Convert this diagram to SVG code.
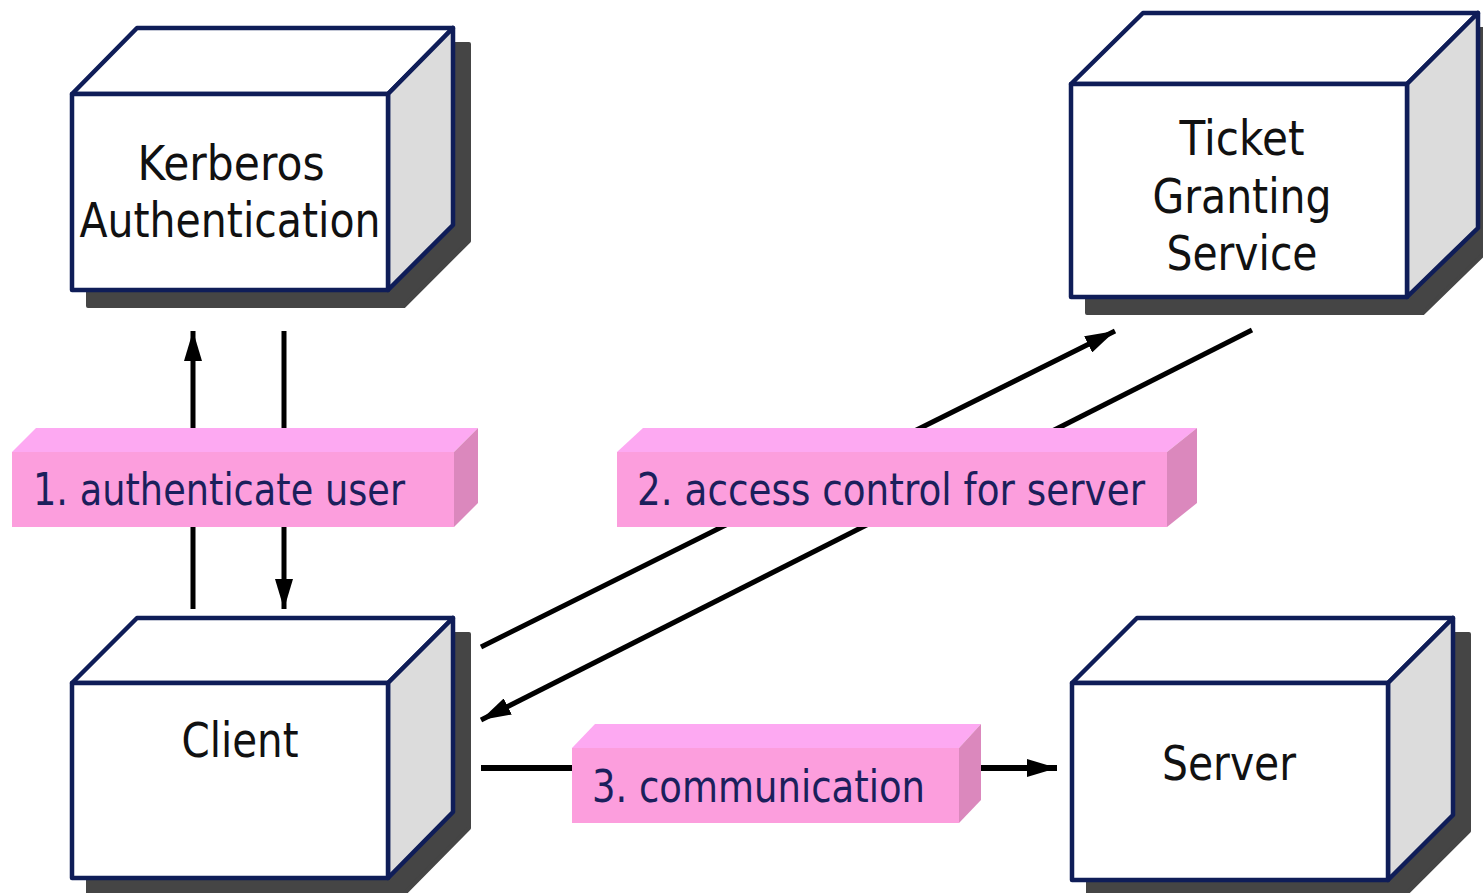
<svg xmlns="http://www.w3.org/2000/svg" width="1483" height="893" viewBox="0 0 1483 893">
  <defs>
    <style>
      .shadow { fill: #454545; stroke: #454545; stroke-width: 4; stroke-linejoin: round; }
      .front { fill: #ffffff; stroke: #0f1d58; stroke-width: 4.5; stroke-linejoin: round; }
      .top { fill: #ffffff; stroke: #0f1d58; stroke-width: 4.5; stroke-linejoin: round; }
      .side { fill: #dcdcdc; stroke: #0f1d58; stroke-width: 4.5; stroke-linejoin: round; }
      .node-text { font-family: "DejaVu Sans", "Liberation Sans", sans-serif; font-size: 48px; fill: #111111; text-anchor: middle; }
      .tag-front { fill: #fc9edd; }
      .tag-top { fill: #fda9f2; }
      .tag-side { fill: #db88bd; }
      .tag-text { font-family: "DejaVu Sans", "Liberation Sans", sans-serif; font-size: 44px; fill: #1b1f5c; }
      .wire { stroke: #000000; stroke-width: 5; fill: none; }
      .wire-thick { stroke: #000000; stroke-width: 6; fill: none; }
    </style>
    <marker id="head" viewBox="0 0 30 18" refX="30" refY="9" markerWidth="30" markerHeight="18" markerUnits="userSpaceOnUse" orient="auto">
      <path d="M0,0 L30,9 L0,18 Z" fill="#000000"/>
    </marker>
  </defs>

  <!-- connectors, drawn first so the tags sit over them -->
  <g id="connectors">
    <line class="wire" x1="193" y1="609" x2="193" y2="331" marker-end="url(#head)"/>
    <line class="wire" x1="284" y1="331" x2="284" y2="609" marker-end="url(#head)"/>
    <line class="wire" x1="481" y1="647" x2="1115" y2="331" marker-end="url(#head)"/>
    <line class="wire" x1="1252" y1="330" x2="481" y2="720" marker-end="url(#head)"/>
    <line class="wire-thick" x1="481" y1="768" x2="1057" y2="768" marker-end="url(#head)"/>
  </g>

  <!-- Kerberos Authentication -->
  <g id="kerberos">
    <polygon class="shadow" points="88,110 153,44 469,44 469,241 404,306 88,306"/>
    <polygon class="top" points="72,94 137,28 453,28 388,94"/>
    <polygon class="side" points="388,94 453,28 453,225 388,290"/>
    <rect class="front" x="72" y="94" width="316" height="196"/>
    <text class="node-text" x="231" y="180" textLength="187" lengthAdjust="spacingAndGlyphs">Kerberos</text>
    <text class="node-text" x="230" y="237" textLength="301" lengthAdjust="spacingAndGlyphs">Authentication</text>
  </g>

  <!-- Ticket Granting Service -->
  <g id="tgs">
    <polygon class="shadow" points="1087,100 1159,29 1494,29 1494,244 1423,313 1087,313"/>
    <polygon class="top" points="1071,84 1143,13 1478,13 1407,84"/>
    <polygon class="side" points="1407,84 1478,13 1478,228 1407,297"/>
    <rect class="front" x="1071" y="84" width="336" height="213"/>
    <text class="node-text" x="1242" y="155" textLength="125" lengthAdjust="spacingAndGlyphs">Ticket</text>
    <text class="node-text" x="1242" y="213" textLength="179" lengthAdjust="spacingAndGlyphs">Granting</text>
    <text class="node-text" x="1242" y="270" textLength="151" lengthAdjust="spacingAndGlyphs">Service</text>
  </g>

  <!-- Client -->
  <g id="client">
    <polygon class="shadow" points="88,699 153,634 469,634 469,828 404,894 88,894"/>
    <polygon class="top" points="72,683 137,618 453,618 388,683"/>
    <polygon class="side" points="388,683 453,618 453,812 388,878"/>
    <rect class="front" x="72" y="683" width="316" height="195"/>
    <text class="node-text" x="240" y="757" textLength="117" lengthAdjust="spacingAndGlyphs">Client</text>
  </g>

  <!-- Server -->
  <g id="server">
    <polygon class="shadow" points="1088,699 1153,634 1469,634 1469,831 1404,896 1088,896"/>
    <polygon class="top" points="1072,683 1137,618 1453,618 1388,683"/>
    <polygon class="side" points="1388,683 1453,618 1453,815 1388,880"/>
    <rect class="front" x="1072" y="683" width="316" height="197"/>
    <text class="node-text" x="1229" y="780" textLength="134" lengthAdjust="spacingAndGlyphs">Server</text>
  </g>

  <!-- step tags -->
  <g id="tag-authenticate">
    <polygon class="tag-top" points="12,452 36,428 478,428 454,452"/>
    <polygon class="tag-side" points="454,452 478,428 478,503 454,527"/>
    <rect class="tag-front" x="12" y="452" width="442" height="75"/>
    <text class="tag-text" x="33" y="505" textLength="372" lengthAdjust="spacingAndGlyphs">1. authenticate user</text>
  </g>

  <g id="tag-access">
    <polygon class="tag-top" points="617,452 643,428 1197,428 1167,452"/>
    <polygon class="tag-side" points="1167,452 1197,428 1197,503 1167,527"/>
    <rect class="tag-front" x="617" y="452" width="550" height="75"/>
    <text class="tag-text" x="637" y="505" textLength="508" lengthAdjust="spacingAndGlyphs">2. access control for server</text>
  </g>

  <g id="tag-communication">
    <polygon class="tag-top" points="572,748 595,724 981,724 959,748"/>
    <polygon class="tag-side" points="959,748 981,724 981,800 959,823"/>
    <rect class="tag-front" x="572" y="748" width="387" height="75"/>
    <text class="tag-text" x="592" y="802" textLength="333" lengthAdjust="spacingAndGlyphs">3. communication</text>
  </g>
</svg>
